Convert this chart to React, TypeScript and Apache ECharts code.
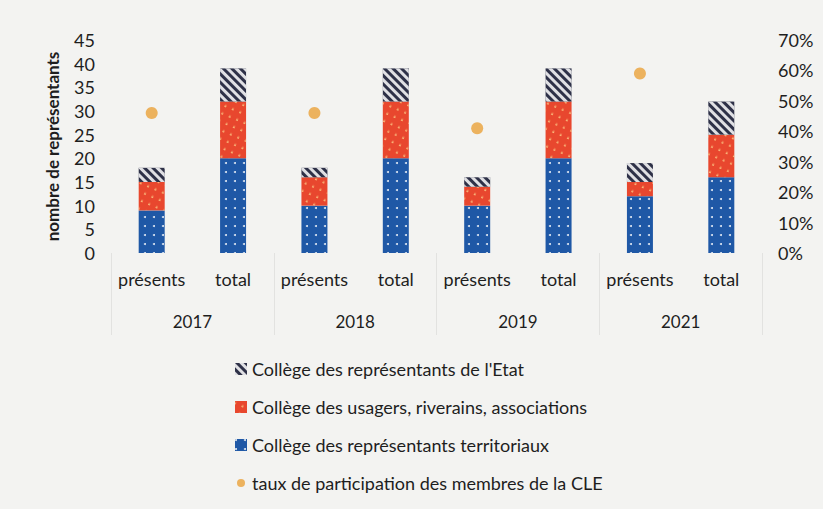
import React, { useEffect, useRef } from "react";
import * as echarts from "echarts";

const categories = ["présents", "total", "présents", "total", "présents", "total", "présents", "total"];
const years = ["2017", "2018", "2019", "2021"];
const territoriaux = [9, 20, 10, 20, 10, 20, 12, 16];
const usagers = [6, 12, 6, 12, 4, 12, 3, 9];
const etat = [3, 7, 2, 7, 2, 7, 4, 7];
const tauxParticipation = [0.46, null, 0.46, null, 0.41, null, 0.59, null];
const leftTicks = { min: 0, max: 45, interval: 5 };
const rightTicks = { min: 0, max: 0.7, interval: 0.1 };

const FONT = "Lato, 'Open Sans', sans-serif";
const SMALL_DOT = "path://M0,0M12,12M10,6A4,4,0,1,1,2,6A4,4,0,1,1,10,6Z";

export default function App() {
  const ref = useRef<HTMLDivElement>(null);
  useEffect(() => {
    document.body.style.margin = "0";
    const chart = echarts.init(ref.current!, undefined, { renderer: "svg" });
    const barCommon = {
      type: "bar",
      stack: "total",
      barWidth: 26,
      xAxisIndex: 0,
      yAxisIndex: 0,
    };
    chart.setOption({
      animation: false,
      backgroundColor: "#f3f3f1",
      textStyle: { fontFamily: FONT },
      grid: { left: 111, right: 61, top: 40, bottom: 256, containLabel: false },
      legend: {
        orient: "vertical",
        left: 230,
        top: 354,
        itemWidth: 12,
        itemHeight: 12,
        itemGap: 18,
        textStyle: { fontSize: 18, color: "#1e1e1e", lineHeight: 20, fontFamily: FONT },
        data: [
          { name: "Collège des représentants de l'Etat", icon: "rect" },
          { name: "Collège des usagers, riverains, associations", icon: "rect" },
          { name: "Collège des représentants territoriaux", icon: "rect" },
          { name: "taux de participation des membres de la CLE", icon: SMALL_DOT },
        ],
      },
      xAxis: [
        {
          type: "category",
          data: categories,
          position: "bottom",
          axisLine: { show: false },
          axisTick: { show: false },
          axisLabel: { color: "#1e1e1e", fontSize: 18, margin: 17, interval: 0, fontFamily: FONT },
        },
        {
          type: "category",
          data: years,
          position: "bottom",
          offset: 0,
          axisLine: { show: false },
          axisTick: { show: true, length: 82, lineStyle: { color: "#e2e2e0", width: 1 } },
          axisLabel: { color: "#1e1e1e", fontSize: 17, margin: 60, interval: 0, fontFamily: FONT },
        },
      ],
      yAxis: [
        {
          type: "value",
          ...leftTicks,
          position: "left",
          name: "nombre de représentants",
          nameLocation: "middle",
          nameGap: 50,
          nameRotate: 90,
          nameTextStyle: { fontSize: 17, fontWeight: "bold", color: "#1e1e1e", fontFamily: FONT },
          axisLine: { show: false },
          axisTick: { show: false },
          splitLine: { show: false },
          axisLabel: { color: "#1e1e1e", fontSize: 18, margin: 16, fontFamily: FONT },
        },
        {
          type: "value",
          ...rightTicks,
          position: "right",
          axisLine: { show: false },
          axisTick: { show: false },
          splitLine: { show: false },
          axisLabel: {
            color: "#1e1e1e",
            fontSize: 18,
            margin: 16,
            fontFamily: FONT,
            formatter: (v: number) => Math.round(v * 100) + "%",
          },
        },
      ],
      series: [
        {
          ...barCommon,
          name: "Collège des représentants territoriaux",
          data: territoriaux,
          itemStyle: {
            color: "#1f58a6",
            decal: {
              symbol: "circle",
              symbolSize: 1,
              color: "rgba(255,255,255,0.85)",
              dashArrayX: [[1.6, 6.4]],
              dashArrayY: [1.6, 6.4],
              rotation: 0,
            },
          },
        },
        {
          ...barCommon,
          name: "Collège des usagers, riverains, associations",
          data: usagers,
          itemStyle: {
            color: "#e8472e",
            decal: {
              symbol: "triangle",
              symbolSize: 1,
              color: "rgba(255,225,150,0.85)",
              dashArrayX: [[2, 6]],
              dashArrayY: [3, 5],
              rotation: 0.4,
            },
          },
        },
        {
          ...barCommon,
          name: "Collège des représentants de l'Etat",
          data: etat,
          itemStyle: {
            color: "#2e3148",
            decal: {
              symbol: "rect",
              symbolSize: 1,
              color: "rgba(255,255,255,0.85)",
              dashArrayX: [1, 0],
              dashArrayY: [2.2, 2.6],
              rotation: Math.PI / 4,
            },
          },
        },
        {
          type: "scatter",
          name: "taux de participation des membres de la CLE",
          xAxisIndex: 0,
          yAxisIndex: 1,
          symbol: "circle",
          symbolSize: 12,
          data: tauxParticipation,
          itemStyle: { color: "#eaa13a" },
        },
      ],
    });
    return () => chart.dispose();
  }, []);
  return <div ref={ref} style={{ width: 823, height: 509 }} />;
}
